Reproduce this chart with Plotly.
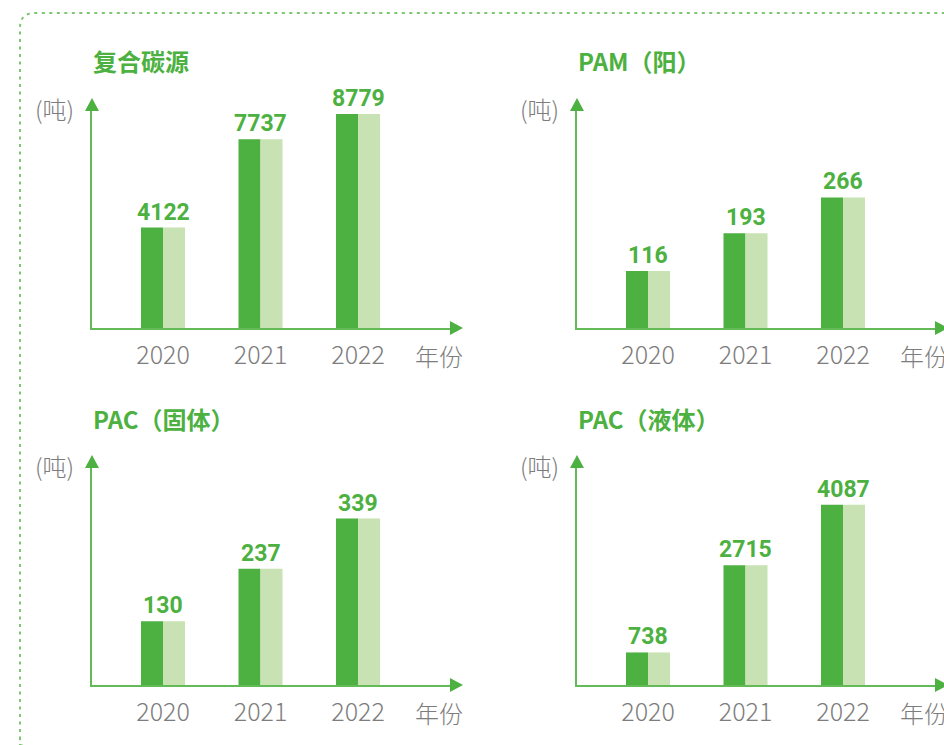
import plotly.graph_objects as go

# ---------------- data ----------------
years = ["2020", "2021", "2022"]
titles = ["复合碳源", "PAM（阳）", "PAC（固体）", "PAC（液体）"]
fuhe_tansuo = [4122, 7737, 8779]
pam_yang = [116, 193, 266]
pac_guti = [130, 237, 339]
pac_yeti = [738, 2715, 4087]
series = [fuhe_tansuo, pam_yang, pac_guti, pac_yeti]
unit_label = "(吨)"
x_label = "年份"

# ---------------- style ----------------
W, H = 944, 745
DARK = "#4cb140"
LIGHT = "#c8e2b4"
AXIS = "#62bb56"
GRAY = "#7d7d7d"
BORDER = "#7cc770"
CJK = "Noto Sans CJK SC"

y_max = [8900, 442, 442, 4920]
# panel geometry in pixels: (left, right(line end), baseline, top(line end))
panels = [
    (92, 450, 328, 111),
    (577, 935, 328, 111),
    (92, 450, 685, 468),
    (577, 935, 685, 468),
]
PX_PER_CAT = 97.5
LEFT_OFF = 71
BAR_W = 22 / PX_PER_CAT


def px(x):
    return x / W


def py(y):
    return 1 - y / H


fig = go.Figure()
shapes = []
annotations = []
layout = {}

for i, (vals, title, (l, r, b, t)) in enumerate(zip(series, titles, panels)):
    n = "" if i == 0 else str(i + 1)
    xa, ya = "x" + n, "y" + n
    cats = list(range(len(years)))
    fig.add_trace(go.Bar(x=cats, y=vals, width=BAR_W, offset=-BAR_W,
                         marker=dict(color=DARK, line=dict(width=0)),
                         xaxis=xa, yaxis=ya, showlegend=False, hoverinfo="skip"))
    fig.add_trace(go.Bar(x=cats, y=vals, width=BAR_W, offset=0,
                         marker=dict(color=LIGHT, line=dict(width=0)),
                         xaxis=xa, yaxis=ya, showlegend=False, hoverinfo="skip"))
    x0 = -LEFT_OFF / PX_PER_CAT
    x1 = x0 + (r - l) / PX_PER_CAT
    layout["xaxis" + n] = dict(
        domain=[px(l), px(r)], range=[x0, x1], anchor=ya,
        tickmode="array", tickvals=cats, ticktext=years,
        tickfont=dict(family=CJK, size=25, color=GRAY, weight=300),
        ticks="outside", ticklen=4, tickcolor="rgba(0,0,0,0)",
        showline=True, linecolor=AXIS, linewidth=2,
        showgrid=False, zeroline=False, fixedrange=True,
    )
    layout["yaxis" + n] = dict(
        domain=[py(b), py(t)], range=[0, y_max[i]], anchor=xa,
        showticklabels=False, ticks="", showline=True, linecolor=AXIS,
        linewidth=2, showgrid=False, zeroline=False, fixedrange=True,
    )
    # value labels
    for c, v in zip(cats, vals):
        annotations.append(dict(
            x=c, y=v, xref=xa, yref=ya, text=str(v), showarrow=False,
            xanchor="center", yanchor="bottom", yshift=0,
            font=dict(family="Roboto", size=23, color=DARK, weight="bold"),
        ))
    # arrowheads
    shapes.append(dict(
        type="path", xref="paper", yref="paper",
        path=f"M {px(l)},{py(t - 13)} L {px(l - 7)},{py(t)} L {px(l + 7)},{py(t)} Z",
        fillcolor=DARK, line=dict(width=0),
    ))
    shapes.append(dict(
        type="path", xref="paper", yref="paper",
        path=f"M {px(r + 13)},{py(b)} L {px(r)},{py(b - 7)} L {px(r)},{py(b + 7)} Z",
        fillcolor=DARK, line=dict(width=0),
    ))
    # titles and labels
    annotations.append(dict(
        x=px(l - 1), y=py(t - 50), xref="paper", yref="paper", text=title,
        showarrow=False, xanchor="left", yanchor="middle",
        font=dict(family=CJK, size=24, color=DARK, weight="bold"),
    ))
    annotations.append(dict(
        x=px(l - 59), y=py(t - 3), xref="paper", yref="paper", text=unit_label,
        showarrow=False, xanchor="left", yanchor="middle",
        font=dict(family=CJK, size=24, color=GRAY, weight=300),
    ))
    annotations.append(dict(
        x=px(r - 37), y=py(b + 27), xref="paper", yref="paper", text=x_label,
        showarrow=False, xanchor="left", yanchor="middle",
        font=dict(family=CJK, size=24, color=GRAY, weight=300),
    ))

# dotted rounded border
bx, by, bb, br, rad = 20, 13, 752, 980, 15
shapes.append(dict(
    type="path", xref="paper", yref="paper",
    path=(f"M {px(bx)},{py(bb + 40)} L {px(bx)},{py(by + rad)} "
          f"Q {px(bx)},{py(by)} {px(bx + rad)},{py(by)} L {px(br)},{py(by)}"),
    line=dict(color=BORDER, width=2, dash="3px,4.5px"),
))
shapes.append(dict(
    type="path", xref="paper", yref="paper",
    path=(f"M {px(bx)},{py(bb - rad)} Q {px(bx)},{py(bb)} {px(bx + rad)},{py(bb)} "
          f"L {px(br)},{py(bb)}"),
    line=dict(color=BORDER, width=2, dash="3px,4.5px"),
))

fig.update_layout(
    width=W, height=H, margin=dict(l=0, r=0, t=0, b=0),
    paper_bgcolor="white", plot_bgcolor="white",
    barmode="overlay", shapes=shapes, annotations=annotations,
    **layout,
)
fig.write_html("out.html", config={"displayModeBar": False})
